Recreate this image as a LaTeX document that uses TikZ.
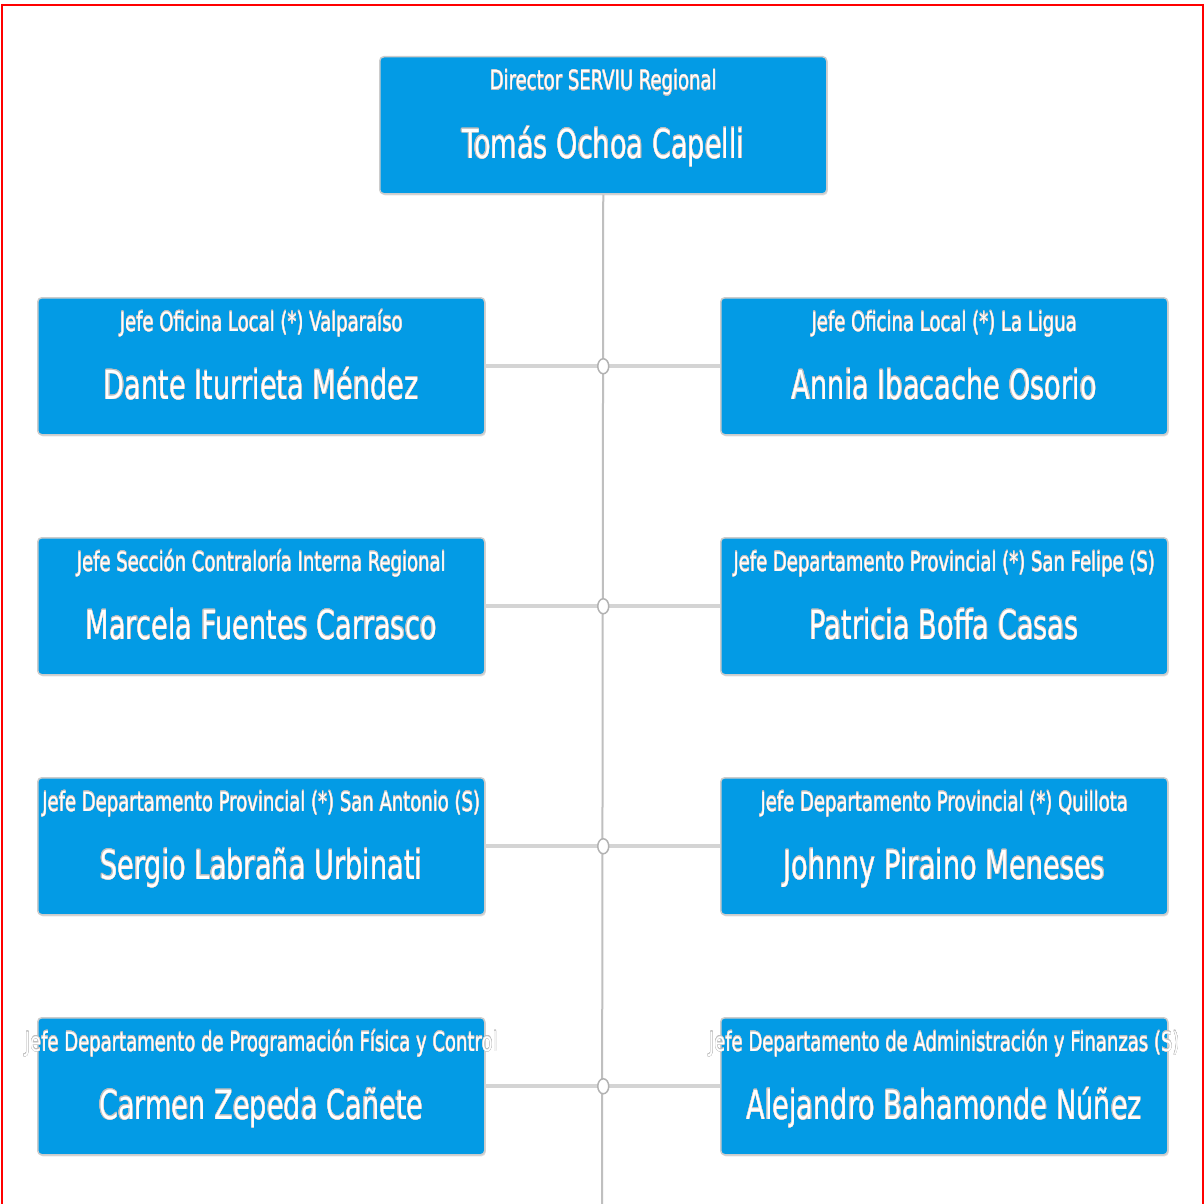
\documentclass[tikz,border=0pt]{standalone}
\usepackage{fontspec}
\setmainfont{DejaVu Sans}[FakeStretch=0.68]
\usepackage[copies]{contour}
\contourlength{0.15pt}
\usetikzlibrary{shadows,shapes.geometric}
\definecolor{boxblue}{HTML}{039BE5}
\begin{document}
\begin{tikzpicture}[x=1pt,y=1pt,
 card/.style={draw=black!20, line width=1.5pt, fill=boxblue, rounded corners=4pt,
   minimum width=447pt, minimum height=137pt, inner sep=0pt, anchor=north west,
   drop shadow={opacity=0.25, shadow xshift=1pt, shadow yshift=-1.5pt}},
 role/.style={text=white, font=\fontsize{26.5}{30}\selectfont, anchor=base, inner sep=0pt},
 person/.style={text=white, font=\fontsize{40}{48}\selectfont, anchor=base, inner sep=0pt},
 vline/.style={draw=black!25, line width=2pt},
 hline/.style={draw=black!17, line width=4pt},
 junction/.style={ellipse, draw=black!30, fill=white, line width=1.5pt,
   minimum width=11pt, minimum height=15pt, inner sep=0pt},
 frame/.style={draw=red, line width=2pt}]
\useasboundingbox (0,0) rectangle (1204,-1204);
\fill[white] (0,0) rectangle (1204,-1204);

% boxes
\node[card] (b0) at (379,-56) {};
\node[card] (l1) at (37,-297) {};
\node[card] (r1) at (720,-297) {};
\node[card] (l2) at (37,-537) {};
\node[card] (r2) at (720,-537) {};
\node[card] (l3) at (37,-777) {};
\node[card] (r3) at (720,-777) {};
\node[card] (l4) at (37,-1017) {};
\node[card] (r4) at (720,-1017) {};

% connectors
\coordinate (vend) at (602,-1204);
\draw[vline] (b0.south) -- (vend);
\foreach \i in {1,2,3,4}{
  \draw[hline] (l\i.east) -- (r\i.west);
  \node[junction] (j\i) at (l\i.east -| b0.south) {};
}

% texts
\node[role] (b0r) at ([yshift=-34pt]b0.north) {\contour{black!25}{Director SERVIU Regional}};
\node[person] (b0p) at ([yshift=-102pt]b0.north) {\contour{black!25}{Tomás Ochoa Capelli}};

\node[role] (l1r) at ([yshift=-34pt]l1.north) {\contour{black!25}{Jefe Oficina Local (*) Valparaíso}};
\node[person] (l1p) at ([yshift=-102pt]l1.north) {\contour{black!25}{Dante Iturrieta Méndez}};
\node[role] (r1r) at ([yshift=-34pt]r1.north) {\contour{black!25}{Jefe Oficina Local (*) La Ligua}};
\node[person] (r1p) at ([yshift=-102pt]r1.north) {\contour{black!25}{Annia Ibacache Osorio}};

\node[role] (l2r) at ([yshift=-34pt]l2.north) {\contour{black!25}{Jefe Sección Contraloría Interna Regional}};
\node[person] (l2p) at ([yshift=-102pt]l2.north) {\contour{black!25}{Marcela Fuentes Carrasco}};
\node[role] (r2r) at ([yshift=-34pt]r2.north) {\contour{black!25}{Jefe Departamento Provincial (*) San Felipe (S)}};
\node[person] (r2p) at ([yshift=-102pt]r2.north) {\contour{black!25}{Patricia Boffa Casas}};

\node[role] (l3r) at ([yshift=-34pt]l3.north) {\contour{black!25}{Jefe Departamento Provincial (*) San Antonio (S)}};
\node[person] (l3p) at ([yshift=-102pt]l3.north) {\contour{black!25}{Sergio Labraña Urbinati}};
\node[role] (r3r) at ([yshift=-34pt]r3.north) {\contour{black!25}{Jefe Departamento Provincial (*) Quillota}};
\node[person] (r3p) at ([yshift=-102pt]r3.north) {\contour{black!25}{Johnny Piraino Meneses}};

\node[role] (l4r) at ([yshift=-34pt]l4.north) {\contour{black!25}{Jefe Departamento de Programación Física y Control}};
\node[person] (l4p) at ([yshift=-102pt]l4.north) {\contour{black!25}{Carmen Zepeda Cañete}};
\node[role] (r4r) at ([yshift=-34pt]r4.north) {\contour{black!25}{Jefe Departamento de Administración y Finanzas (S)}};
\node[person] (r4p) at ([yshift=-102pt]r4.north) {\contour{black!25}{Alejandro Bahamonde Núñez}};

% frame
\draw[frame] (1,-5) -- (1203,-5);
\draw[frame] (2,-4) -- (2,-1204);
\draw[frame] (1203,-4) -- (1203,-1204);
\end{tikzpicture}
\end{document}
